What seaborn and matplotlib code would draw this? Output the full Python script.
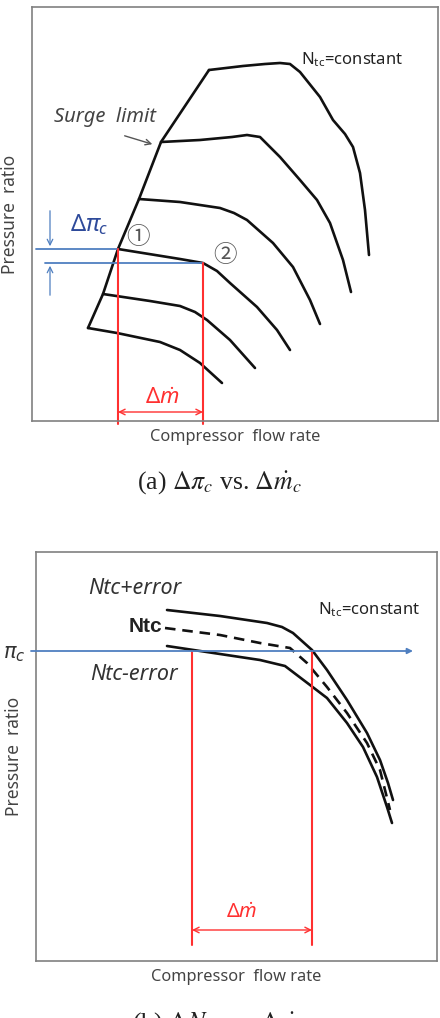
import numpy as np
import pandas as pd
import matplotlib
matplotlib.use("Agg")
from matplotlib import pyplot as plt
import seaborn as sns

# * Compressor map sketches: (a) surge side, (b) speed error band

# ---- panel (a): constant speed lines, flow vs pressure ratio (arbitrary units)
a_speed1_x = [177, 211, 233, 248, 258, 268, 288, 301, 313, 321, 328, 333, 337]
a_speed1_y = [351, 355, 357, 358, 357, 349, 324, 301, 287, 274, 248, 211, 166]
a_speed2_x = [129, 168, 200, 215, 228, 248, 268, 285, 298, 311, 319]
a_speed2_y = [279, 281, 284, 286, 284, 264, 241, 221, 198, 161, 129]
a_speed3_x = [107, 148, 188, 202, 215, 241, 261, 278, 288]
a_speed3_y = [222, 219, 213, 208, 201, 178, 154, 121, 97]
a_speed4_x = [86, 148, 171, 185, 198, 225, 245, 258]
a_speed4_y = [172, 162, 158, 150, 138, 114, 91, 71]
a_speed5_x = [71, 118, 148, 163, 175, 198, 223]
a_speed5_y = [127, 120, 115, 109, 101, 81, 53]
a_speed6_x = [56, 85, 128, 148, 168, 190]
a_speed6_y = [93, 88, 79, 71, 58, 38]
a_surge_x = [56, 71, 86, 107, 129, 177]
a_surge_y = [93, 127, 172, 222, 279, 351]

a_pt1 = (86, 172)     # point 1 (surge side)
a_pt2 = (171, 158)    # point 2 (same speed line)

# ---- panel (b): one speed line with +/- error band
b_plus_x = [131, 184, 231, 246, 257, 276, 291, 311, 331, 344, 352, 357]
b_plus_y = [351, 345, 338, 334, 328, 311, 291, 261, 228, 201, 178, 161]
b_nom_x = [129, 184, 224, 254, 271, 291, 311, 331, 344, 354]
b_nom_y = [333, 326, 318, 313, 298, 274, 248, 218, 191, 151]
b_minus_x = [131, 184, 224, 249, 274, 291, 311, 327, 341, 351, 356]
b_minus_y = [315, 307, 301, 295, 276, 263, 238, 214, 184, 154, 138]

b_pi_c = 310
b_flow_lo = 156
b_flow_hi = 276

black = "#111111"
blue = "#4F7FC0"
dblue = "#2E4A9A"
red = "#FF3030"
gray = "#444444"
frame = "#808080"

sns.set_style("white")
plt.rcParams["font.family"] = ["Noto Sans", "DejaVu Sans"]
plt.rcParams["mathtext.fontset"] = "custom"
plt.rcParams["mathtext.rm"] = "Noto Sans"
plt.rcParams["mathtext.it"] = "Noto Sans:italic"

fig = plt.figure(figsize=(4.4, 10.18), dpi=100)
ax_a = fig.add_axes([32 / 440, 597 / 1018, 406 / 440, 414 / 1018])
ax_b = fig.add_axes([36 / 440, 57 / 1018, 401 / 440, 409 / 1018])


def curve(ax, xs, ys, **kw):
    df = pd.DataFrame({"flow": xs, "pr": ys})
    sns.lineplot(data=df, x="flow", y="pr", sort=False, estimator=None,
                 ax=ax, color=black, lw=1.9, **kw)


def frame_axes(ax, xmax, ymax):
    ax.set_xlim(0, xmax)
    ax.set_ylim(0, ymax)
    ax.set_xticks([])
    ax.set_yticks([])
    for s in ax.spines.values():
        s.set_color(frame)
        s.set_linewidth(1.2)
    ax.set_xlabel("Compressor  flow rate", fontsize=11.8, color=gray)
    ax.set_ylabel("Pressure  ratio", fontsize=12.5, color=gray)
    ax.xaxis.set_label_coords(0.5, -0.02)
    ax.yaxis.set_label_coords(-0.033, 0.5)
    ax.xaxis.label.set_va("top")


# ---------------- panel (a)
for xs, ys in [(a_speed1_x, a_speed1_y), (a_speed2_x, a_speed2_y),
               (a_speed3_x, a_speed3_y), (a_speed4_x, a_speed4_y),
               (a_speed5_x, a_speed5_y), (a_speed6_x, a_speed6_y),
               (a_surge_x, a_surge_y)]:
    curve(ax_a, xs, ys)
frame_axes(ax_a, 406, 414)

# blue delta pi
ax_a.plot([4, a_pt1[0]], [a_pt1[1], a_pt1[1]], color=blue, lw=1.3)
ax_a.plot([13, a_pt2[0]], [a_pt2[1], a_pt2[1]], color=blue, lw=1.3)
ax_a.annotate("", xy=(18, a_pt1[1]), xytext=(18, 213),
              arrowprops=dict(arrowstyle="->", color=blue, lw=0.9))
ax_a.annotate("", xy=(18, a_pt2[1]), xytext=(18, 123),
              arrowprops=dict(arrowstyle="->", color=blue, lw=0.9))
ax_a.text(57, 196, r"$\Delta\pi_c$", color=dblue, fontsize=17,
          ha="center", va="center")

# red delta m
ax_a.plot([a_pt1[0], a_pt1[0]], [a_pt1[1], -3], color=red, lw=1.5, clip_on=False)
ax_a.plot([a_pt2[0], a_pt2[0]], [a_pt2[1], -3], color=red, lw=1.5, clip_on=False)
ax_a.annotate("", xy=(a_pt1[0], 9), xytext=(a_pt2[0], 9),
              arrowprops=dict(arrowstyle="<->", color=red, lw=1.0,
                              shrinkA=0, shrinkB=0))
ax_a.text(130, 22, r"$\Delta\dot{m}$", color=red, fontsize=16,
          ha="center", va="center")

ax_a.text(a_pt1[0] + 20, a_pt1[1] + 12, "\u2460", color="#555555", fontsize=17,
          ha="center", va="center", family=["Noto Sans CJK KR", "DejaVu Sans"])
ax_a.text(a_pt2[0] + 22, a_pt2[1] + 7, "\u2461", color="#555555", fontsize=17,
          ha="center", va="center", family=["Noto Sans CJK KR", "DejaVu Sans"])

ax_a.text(73, 304, "Surge  limit", color="#444444", fontsize=14.5,
          style="italic", ha="center", va="center")
ax_a.annotate("", xy=(123, 276), xytext=(90, 286),
              arrowprops=dict(arrowstyle="->", color="#555555", lw=1.0))
ax_a.text(320, 361, r"N$_\mathregular{tc}$=constant", color="#222222",
          fontsize=12, ha="center", va="center")

fig.text(220 / 440, 1 - 483 / 1018,
         r"(a) $\Delta\pi_c$ vs. $\Delta\dot{m}_c$",
         family="Liberation Serif", fontsize=18.5, ha="center", va="center",
         math_fontfamily="stix", color="#222222")

# ---------------- panel (b)
curve(ax_b, b_plus_x, b_plus_y)
curve(ax_b, b_minus_x, b_minus_y)
curve(ax_b, b_nom_x, b_nom_y)
ax_b.get_lines()[-1].set_dashes((4, 2.6))
frame_axes(ax_b, 401, 409)

ax_b.annotate("", xy=(377, b_pi_c), xytext=(-5, b_pi_c), annotation_clip=False,
              arrowprops=dict(arrowstyle="-|>", color=blue, lw=1.3,
                              mutation_scale=8, shrinkA=0, shrinkB=0))
ax_b.text(-22, 308, r"$\pi_c$", color="#333333", fontsize=15,
          ha="center", va="center", math_fontfamily="dejavusans")

for fx in (b_flow_lo, b_flow_hi):
    ax_b.plot([fx, fx], [b_pi_c, 16], color=red, lw=1.5)
ax_b.annotate("", xy=(b_flow_lo, 31), xytext=(b_flow_hi, 31),
              arrowprops=dict(arrowstyle="<->", color=red, lw=1.0,
                              shrinkA=0, shrinkB=0))
ax_b.text(206, 48, r"$\Delta\dot{m}$", color=red, fontsize=14.5,
          ha="center", va="center")

ax_b.text(99, 372, "Ntc+error", style="italic", fontsize=15.5, color="#333333",
          ha="center", va="center")
ax_b.text(126, 335, "Ntc", weight="bold", fontsize=15, color="#222222",
          ha="right", va="center", family="Liberation Sans")
ax_b.text(98, 286, "Ntc-error", style="italic", fontsize=15.5, color="#333333",
          ha="center", va="center")
ax_b.text(333, 351, r"N$_\mathregular{tc}$=constant", color="#222222",
          fontsize=12, ha="center", va="center")

fig.text(220 / 440, 1 - 1024 / 1018,
         r"(b) $\Delta N_{tc}$ vs. $\Delta\dot{m}_c$",
         family="Liberation Serif", fontsize=18.5, ha="center", va="center",
         math_fontfamily="stix", color="#222222")

fig.savefig("out.png", dpi=100)
